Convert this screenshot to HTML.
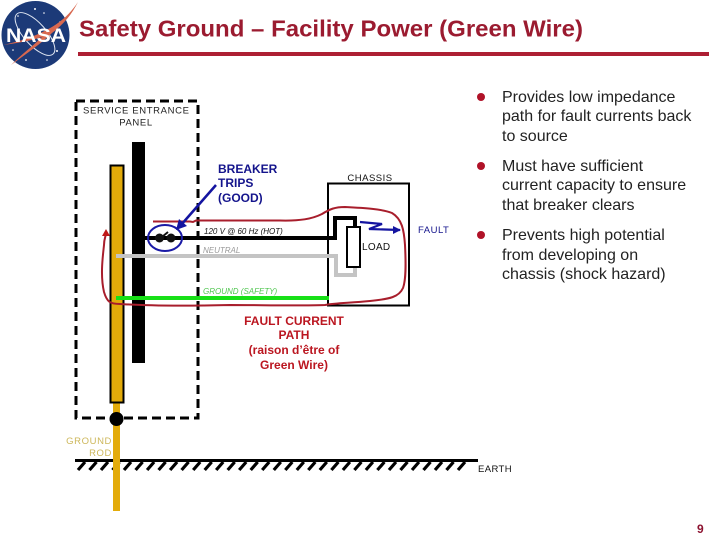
<!DOCTYPE html>
<html>
<head>
<meta charset="utf-8">
<style>
html,body{margin:0;padding:0;background:#fff}
svg{display:block}
text{font-family:"Liberation Sans",sans-serif}
</style>
</head>
<body>
<svg width="720" height="540" viewBox="0 0 720 540" xmlns="http://www.w3.org/2000/svg">
<rect width="720" height="540" fill="#fff"/>
<!-- NASA logo -->
<circle cx="35.500" cy="35" r="34" fill="#1c3a78"/>
<g fill="#fff">
<circle cx="18" cy="16" r="0.8"/><circle cx="35" cy="9" r="1"/><circle cx="44" cy="13" r="0.8"/><circle cx="57" cy="51" r="1"/><circle cx="26" cy="60" r="0.9"/><circle cx="47" cy="60" r="0.8"/><circle cx="13" cy="50" r="0.8"/><circle cx="60" cy="22" r="0.8"/>
</g>
<ellipse cx="35" cy="34" rx="27" ry="11" transform="rotate(48 35 34)" fill="none" stroke="#dfe6f2" stroke-width="1"/>
<path d="M78 2C66 20 52 28 36 35C24 40 12 43 3 45C18 43 30 41 42 37C34 45 22 54 11 65C26 54 42 43 52 33C64 24 72 14 78 2Z" fill="#d8684f"/>
<text x="36" y="42" font-size="19" font-weight="bold" fill="#fff" text-anchor="middle" textLength="60" lengthAdjust="spacingAndGlyphs">NASA</text>
<!-- Title -->
<text x="79" y="36.500" font-size="23.500" font-weight="bold" fill="#9b1b30" textLength="504" lengthAdjust="spacingAndGlyphs">Safety Ground – Facility Power (Green Wire)</text>
<rect x="78" y="52" width="631" height="4" fill="#ad1f33"/>
<!-- Panel -->
<rect x="76" y="101" width="122" height="317" fill="none" stroke="#000" stroke-width="3" stroke-dasharray="9 5"/>
<text x="136" y="113.500" font-size="9.500" text-anchor="middle" fill="#222" textLength="106" lengthAdjust="spacing">SERVICE ENTRANCE</text>
<text x="136" y="125.500" font-size="9.500" text-anchor="middle" fill="#222" letter-spacing="0.600">PANEL</text>
<rect x="132" y="142" width="13" height="221" fill="#000"/>
<!-- Rod -->
<rect x="113" y="403" width="7" height="108" fill="#e3ab0a"/>
<rect x="110.500" y="165.500" width="13" height="237" fill="#e3ab0a" stroke="#000" stroke-width="2"/>
<circle cx="116.500" cy="419" r="7" fill="#000"/>
<text x="112" y="444" font-size="9.500" text-anchor="end" fill="#cdb75a" letter-spacing="0.600">GROUND</text>
<text x="112" y="456" font-size="9.500" text-anchor="end" fill="#cdb75a" letter-spacing="0.600">ROD</text>
<!-- Earth -->
<rect x="75" y="459" width="403" height="3" fill="#000"/>
<path d="M85 462l-7 8M96.500 462l-7 8M108 462l-7 8M119.500 462l-7 8M131 462l-7 8M142.600 462l-7 8M154.100 462l-7 8M165.600 462l-7 8M177.100 462l-7 8M188.600 462l-7 8M200.200 462l-7 8M211.700 462l-7 8M223.200 462l-7 8M234.700 462l-7 8M246.200 462l-7 8M257.700 462l-7 8M269.200 462l-7 8M280.800 462l-7 8M292.300 462l-7 8M303.800 462l-7 8M315.300 462l-7 8M326.800 462l-7 8M338.400 462l-7 8M349.900 462l-7 8M361.400 462l-7 8M372.900 462l-7 8M384.400 462l-7 8M396 462l-7 8M407.500 462l-7 8M419 462l-7 8M430.500 462l-7 8M442 462l-7 8M453.500 462l-7 8M465 462l-7 8" stroke="#000" stroke-width="3.200" fill="none"/>
<rect x="113" y="459" width="7" height="14" fill="#e3ab0a"/>
<text x="478" y="472" font-size="9.500" fill="#111" letter-spacing="0.400">EARTH</text>
<!-- Chassis -->
<rect x="328" y="183.500" width="81" height="122" fill="none" stroke="#000" stroke-width="2"/>
<text x="370" y="181" font-size="9.500" text-anchor="middle" fill="#111" letter-spacing="0.500">CHASSIS</text>
<!-- Wires -->
<path d="M145 238H335V218H355V227" fill="none" stroke="#000" stroke-width="4"/>
<path d="M116 256H336V275H355V267" fill="none" stroke="#c4c4c4" stroke-width="4"/>
<rect x="116" y="296" width="213" height="4" fill="#17e017"/>
<rect x="347" y="227" width="13" height="40" fill="#fff" stroke="#000" stroke-width="2"/>
<text x="362" y="250" font-size="10" fill="#111" letter-spacing="0.300">LOAD</text>
<!-- Switch -->
<circle cx="159.500" cy="238" r="4.500" fill="#111"/>
<circle cx="171" cy="238" r="4.500" fill="#111"/>
<path d="M162 237L168 232" stroke="#111" stroke-width="2"/>
<ellipse cx="165" cy="238" rx="17" ry="13" fill="none" stroke="#1a1aa6" stroke-width="2"/>
<!-- Red fault path -->
<path d="M153 221.500H190L193 222L196 220.500L280 220.500C300 221 312 219 322 214C330 209 335 207 345 207C365 208 382 209 392 213C402 219 404 230 405 245C406 265 406 280 403 288C399 297 390 299 370 301C350 303 335 303 325 305C300 306 260 305 230 305C190 306 150 306 120 304C110 304 107 302 104 292C100 275 103 255 104 245C104 240 105 238 106 234" fill="none" stroke="#a81e2c" stroke-width="2"/>
<path d="M106 229L110 236H102Z" fill="#c01818"/>
<!-- Blue arrow -->
<path d="M216 185L181 225" stroke="#1414a0" stroke-width="2.500" fill="none"/>
<path d="M176 230L179 219L187 226Z" fill="#1414a0"/>
<!-- Fault bolt -->
<path d="M360 222L382 224L369 229L400 230" fill="none" stroke="#1414a0" stroke-width="2.200"/>
<path d="M401 230L393 226V234Z" fill="#1414a0"/>
<!-- Labels -->
<text x="218" y="173" font-size="12" font-weight="bold" fill="#14148c">BREAKER</text>
<text x="218" y="187" font-size="12" font-weight="bold" fill="#14148c">TRIPS</text>
<text x="218" y="202" font-size="12" font-weight="bold" fill="#14148c">(GOOD)</text>
<text x="204" y="234" font-size="8" font-style="italic" fill="#111">120 V @ 60 Hz (HOT)</text>
<text x="203" y="253" font-size="8" font-style="italic" fill="#999">NEUTRAL</text>
<text x="203" y="294" font-size="8" font-style="italic" fill="#4fc64f">GROUND (SAFETY)</text>
<text x="418" y="233" font-size="9.500" fill="#14148c" letter-spacing="0.500">FAULT</text>
<g font-size="12" font-weight="bold" fill="#bb1620" text-anchor="middle">
<text x="294" y="325">FAULT CURRENT</text>
<text x="294" y="339">PATH</text>
<text x="294" y="354">(raison d’être of</text>
<text x="294" y="369">Green Wire)</text>
</g>
<!-- Bullets -->
<g fill="#b01228">
<circle cx="481" cy="97" r="4"/>
<circle cx="481" cy="166" r="4"/>
<circle cx="481" cy="235" r="4"/>
</g>
<g font-size="16" fill="#222">
<text x="502" y="102">Provides low impedance</text>
<text x="502" y="121">path for fault currents back</text>
<text x="502" y="141">to source</text>
<text x="502" y="171">Must have sufficient</text>
<text x="502" y="190">current capacity to ensure</text>
<text x="502" y="210">that breaker clears</text>
<text x="502" y="240">Prevents high potential</text>
<text x="502" y="260">from developing on</text>
<text x="502" y="279">chassis (shock hazard)</text>
</g>
<text x="697" y="533" font-size="12" font-weight="bold" fill="#8c1230">9</text>
</svg>
</body>
</html>
